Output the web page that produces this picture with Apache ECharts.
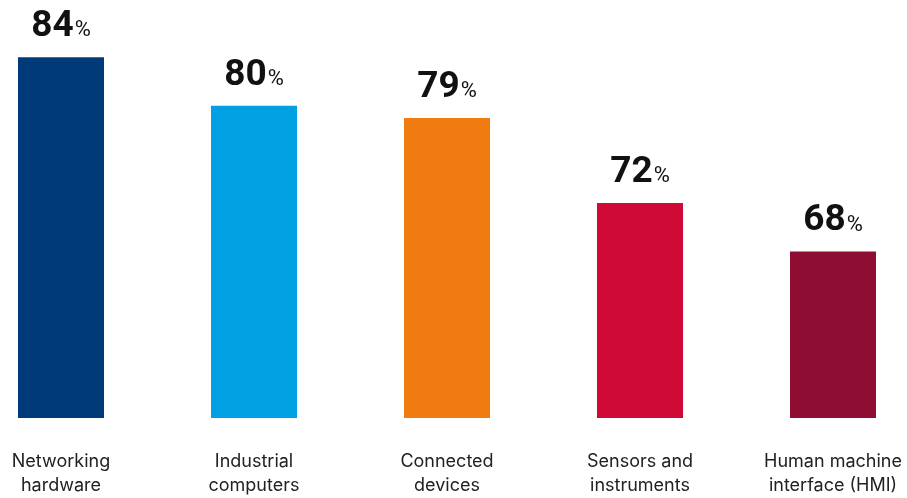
<!DOCTYPE html>
<html>
<head>
<meta charset="utf-8">
<script src="https://cdn.jsdelivr.net/npm/echarts@6/dist/echarts.min.js"></script>
<style>
  html, body { margin: 0; padding: 0; background: #fff; }
  #chart { width: 907px; height: 498px; }
</style>
</head>
<body>
<div id="chart"></div>
<script>
const categories = [
  'Networking\nhardware',
  'Industrial\ncomputers',
  'Connected\ndevices',
  'Sensors and\ninstruments',
  'Human machine\ninterface (HMI)'
]
const values = [84, 80, 79, 72, 68]
const colors = ['#003a78', '#00a0e3', '#f07b10', '#d00a36', '#8e0e33']

const chart = echarts.init(document.getElementById('chart'), null, { renderer: 'canvas' })

chart.setOption({
  animation: false,
  backgroundColor: '#fff',
  grid: { left: 61, right: 74, top: 33, bottom: 76 },
  xAxis: {
    type: 'category',
    data: categories,
    boundaryGap: false,
    axisLine: { show: false },
    axisTick: { show: false },
    axisLabel: {
      interval: 0,
      margin: 32,
      color: '#222',
      fontSize: 18,
      lineHeight: 24,
      fontFamily: 'Inter, Roboto, sans-serif'
    }
  },
  yAxis: {
    type: 'value',
    min: 54.3,
    max: 86,
    show: false,
    splitLine: { show: false }
  },
  series: [{
    type: 'bar',
    barWidth: 86,
    data: values.map((v, i) => ({ value: v, itemStyle: { color: colors[i] } })),
    label: {
      show: true,
      position: 'top',
      distance: 12,
      formatter: p => '{n|' + p.value + '}{p|%}',
      rich: {
        n: { fontSize: 37, fontWeight: 'bold', color: '#111', fontFamily: 'Roboto, Inter, sans-serif' },
        p: { fontSize: 22, color: '#111', fontFamily: 'Roboto, Inter, sans-serif', padding: [8, 0, 0, 1] }
      }
    }
  }]
})
</script>
</body>
</html>
